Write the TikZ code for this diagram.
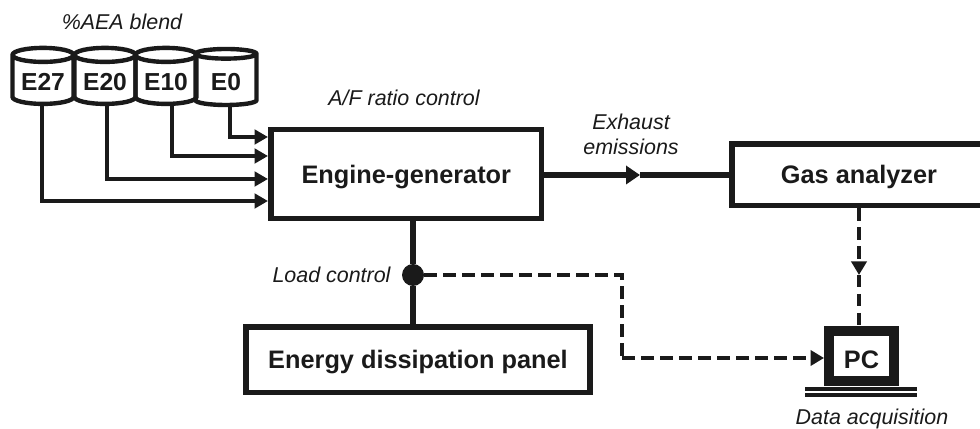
\documentclass[tikz,border=0pt]{standalone}
\usepackage{fontspec}
\setmainfont{Liberation Sans}
\usepackage{xcolor}
\usetikzlibrary{
    arrows.meta,
    calc,
    shapes.geometric
}
\definecolor{ink}{HTML}{1A1A1A}
\tikzset{
    block/.style={draw=ink, line width=3.2pt, text=ink, text height=0.47cm, text depth=0.105cm,
        font=\fontsize{14.4}{16}\selectfont\bfseries},
    tank/.style={draw=ink, line width=2.5pt, text=ink, cylinder, shape border rotate=90, aspect=0.32,
        minimum width=1.22cm, minimum height=1.12cm, inner sep=0pt, text height=0.5cm, text depth=0.08cm,
        font=\fontsize{14}{15}\selectfont\bfseries},
    tag/.style={text=ink, align=center, font=\fontsize{12.2}{14.4}\selectfont\itshape},
    feed/.style={draw=ink, line width=2.3pt, -{Triangle[length=0.27cm, width=0.29cm]}},
    signal/.style={draw=ink, line width=2.5pt, dash pattern=on 0.25cm off 0.13cm},
    sigtip/.style={signal, -{Triangle[length=0.27cm, width=0.3cm]}}
}
\begin{document}
\begin{tikzpicture}
    \useasboundingbox (0, 0) rectangle (19.6, -8.58);
    % tanks
    \node[tank] (e27) at (0.86, -1.61) {E27};
    \node[tank] (e20) at (2.10, -1.61) {E20};
    \node[tank] (e10) at (3.32, -1.61) {E10};
    \node[tank] (e0) at (4.52, -1.61) {E0};
    % blocks
    \node[block, minimum width=5.41cm, minimum height=1.78cm] (engine) at (8.125, -3.48) {Engine-generator};
    \node[block, minimum width=5.08cm, minimum height=1.23cm] (gas) at (17.18, -3.495) {Gas analyzer};
    \node[block, minimum width=6.88cm, minimum height=1.31cm] (panel) at (8.36, -7.195) {Energy dissipation panel};
    \node[draw=ink, line width=5.6pt, text=ink, minimum width=1.3cm, minimum height=1.0cm, inner sep=0pt,
        text height=0.6cm, text depth=0.11cm, font=\fontsize{14.4}{16}\selectfont\bfseries] (pc) at (17.23, -7.12) {PC};
    \node[fill=ink, circle, minimum size=0.44cm, inner sep=0pt] (dot) at (8.26, -5.5) {};
    % labels
    \node[tag] (blend) at (2.44, -0.44) {\%AEA blend};
    \node[tag] (ratio) at (8.08, -1.96) {A/F ratio control};
    \node[tag] (exhaust) at (12.62, -2.69) {Exhaust\\emissions};
    \node[tag] (load) at (6.63, -5.5) {Load control};
    \node[tag] (daq) at (17.44, -8.38) {Data acquisition};
    % helper points
    \coordinate (in0) at (5.36, -2.74);
    \coordinate (in10) at (5.36, -3.12);
    \coordinate (in20) at (5.36, -3.58);
    \coordinate (in27) at (5.36, -4.02);
    \coordinate (exmid) at (12.8, -3.5);
    \coordinate (gasmid) at (17.18, -5.5);
    \coordinate (bend) at (12.44, -5.5);
    \coordinate (benddown) at (12.44, -7.16);
    \coordinate (base) at (17.22, -7.84);
    % connectors
    \draw[feed] (4.6, -2.06) |- (in0);
    \draw[feed] (3.44, -2.06) |- (in10);
    \draw[feed] (2.14, -2.06) |- (in20);
    \draw[feed] (0.84, -2.06) |- (in27);
    \draw[draw=ink, line width=3.3pt, -{Triangle[length=0.28cm, width=0.36cm]}] (engine.east |- exmid) -- (exmid);
    \draw[draw=ink, line width=3.3pt] (exmid) -- (gas.west |- exmid);
    \draw[draw=ink, line width=3.1pt] (engine.south -| dot) -- (dot);
    \draw[draw=ink, line width=3.1pt] (dot) -- (panel.north -| dot);
    \draw[sigtip] (gas.south -| gasmid) -- (gasmid);
    \draw[signal] (gasmid) -- (pc.north -| gasmid);
    \draw[signal] (dot) -- (bend) -- (benddown);
    \draw[sigtip] (benddown) -- (pc.west |- benddown);
    % base of the PC
    \draw[draw=ink, line width=2.6pt] ($(base)+(-1.12, 0.06)$) -- ($(base)+(1.12, 0.06)$);
    \draw[draw=ink, line width=2.6pt] ($(base)+(-1.12, -0.06)$) -- ($(base)+(1.12, -0.06)$);
\end{tikzpicture}
\end{document}
